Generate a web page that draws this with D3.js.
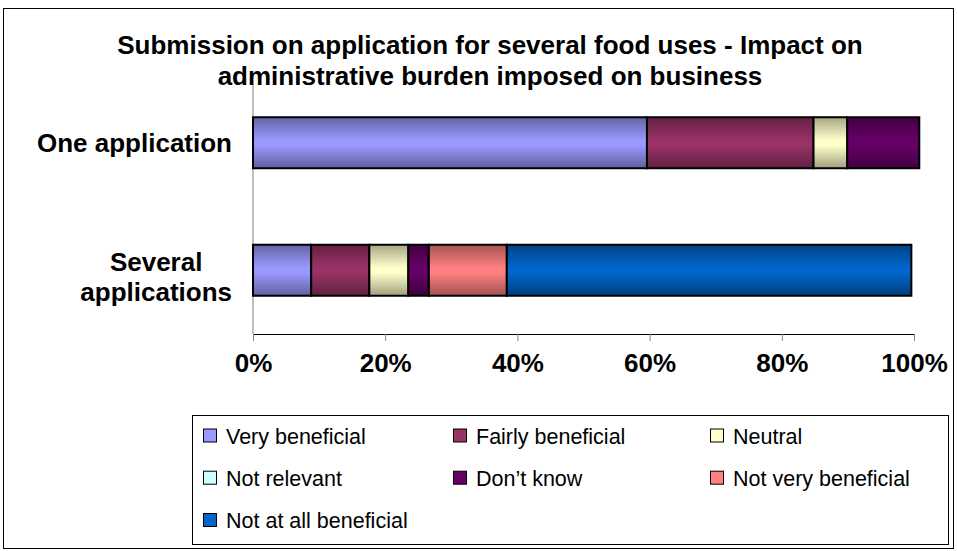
<!DOCTYPE html>
<html>
<head>
<meta charset="utf-8">
<script src="https://cdn.jsdelivr.net/npm/d3@7"></script>
<style>
  body { margin: 0; background: #fff; }
  svg text { font-family: "Liberation Sans", Arial, sans-serif; }
</style>
</head>
<body>
<div id="chart"></div>
<script>
// survey answers, percent of respondents
const categories = ["One application", "Several applications"]
const seriesNames = ["Very beneficial", "Fairly beneficial", "Neutral", "Not relevant",
    "Don\u2019t know", "Not very beneficial", "Not at all beneficial"]
const seriesColors = ["#9999FF", "#993366", "#FFFFCC", "#CCFFFF", "#660066", "#FF8080", "#0066CC"]

const veryBeneficial = [59.6, 8.8]
const fairlyBeneficial = [25.2, 8.8]
const neutral = [5.1, 5.9]
const notRelevant = [0, 0]
const dontKnow = [10.9, 3.1]
const notVeryBeneficial = [0, 11.8]
const notAtAllBeneficial = [0, 61.2]

const xTicks = [0, 20, 40, 60, 80, 100]
const titleLines = ["Submission on application for several food uses - Impact on",
    "administrative burden imposed on business"]

const width = 957
const height = 551

const seriesValues = [veryBeneficial, fairlyBeneficial, neutral, notRelevant,
    dontKnow, notVeryBeneficial, notAtAllBeneficial]

// table for d3.stack
let table = categories.map((c, i) => {
    let row = { category: c }
    seriesNames.forEach((s, j) => { row[s] = seriesValues[j][i] })
    return row
})

let svg = d3.select("#chart")
    .append("svg")
    .attr("width", width)
    .attr("height", height)

// outer frame
svg.append("rect")
    .attr("x", 3.5).attr("y", 8.5)
    .attr("width", 950).attr("height", 540)
    .attr("fill", "#fff")
    .attr("stroke", "#000")
    .attr("stroke-width", 1)

let x = d3.scaleLinear().domain([0, 100]).range([253, 914])
let y = d3.scaleBand().domain(categories).range([79, 334]).padding(0)
let barH = y.bandwidth() / 2.5

let color = d3.scaleOrdinal().domain(seriesNames).range(seriesColors)

// gradients: dark edges, bright middle
let defs = svg.append("defs")
seriesNames.forEach((s, i) => {
    let c = d3.color(seriesColors[i])
    let g = defs.append("linearGradient")
        .attr("id", "grad" + i)
        .attr("x1", 0).attr("y1", 0).attr("x2", 0).attr("y2", 1)
    g.append("stop").attr("offset", "0%").attr("stop-color", c.darker(1.2))
    g.append("stop").attr("offset", "45%").attr("stop-color", c)
    g.append("stop").attr("offset", "55%").attr("stop-color", c)
    g.append("stop").attr("offset", "100%").attr("stop-color", c.darker(1.3))
})

// axes
svg.append("line")
    .attr("x1", x(0)).attr("x2", x(0))
    .attr("y1", y.range()[0] + 6).attr("y2", y.range()[1])
    .attr("stroke", "#808080")
    .attr("stroke-width", 1)

let xAxis = svg.append("g")
    .attr("transform", "translate(0," + y.range()[1] + ")")
    .call(d3.axisBottom(x).tickValues(xTicks).tickSize(7).tickFormat(d => d + "%"))
xAxis.select(".domain").attr("stroke", "#000")
xAxis.selectAll(".tick line").attr("stroke", "#808080")
xAxis.selectAll(".tick text")
    .attr("y", 38)
    .attr("dy", 0)
    .attr("fill", "#000")
    .style("font-size", "26px")
    .style("font-weight", "bold")
    .style("font-family", "'Liberation Sans', Arial, sans-serif")

// stacked bars
let stacked = d3.stack().keys(seriesNames)(table)

let layers = svg.selectAll("g.layer")
    .data(stacked)
    .enter()
    .append("g")
    .attr("class", "layer")
    .attr("fill", (d, i) => "url(#grad" + i + ")")

layers.selectAll("rect")
    .data(d => d.filter(p => p[1] - p[0] > 0))
    .enter()
    .append("rect")
    .attr("x", d => x(d[0]))
    .attr("y", d => y(d.data.category) + (y.bandwidth() - barH) / 2)
    .attr("width", d => x(d[1]) - x(d[0]))
    .attr("height", barH)
    .attr("stroke", "#000")
    .attr("stroke-width", 2)

// category labels, centred block right-aligned against the axis
let catLabels = svg.selectAll("g.catlabel")
    .data(categories)
    .enter()
    .append("g")
    .attr("class", "catlabel")

catLabels.each(function (c) {
    let lines = c == "Several applications" ? ["Several", "applications"] : [c]
    let g = d3.select(this)
    let cy = y(c) + y.bandwidth() / 2 + (lines.length > 1 ? 6 : 0)
    let texts = g.selectAll("text")
        .data(lines)
        .enter()
        .append("text")
        .attr("text-anchor", "middle")
        .attr("y", (d, i) => cy + (i - (lines.length - 1) / 2) * 30 + 9.5)
        .style("font-size", "26px")
        .style("font-weight", "bold")
        .text(d => d)
    let maxW = d3.max(texts.nodes(), n => n.getComputedTextLength())
    texts.attr("x", 232 - maxW / 2)
})

// title
svg.append("g")
    .selectAll("text")
    .data(titleLines)
    .enter()
    .append("text")
    .attr("x", 490)
    .attr("y", (d, i) => 54 + i * 31)
    .attr("text-anchor", "middle")
    .style("font-size", "26px")
    .style("font-weight", "bold")
    .text(d => d)

// legend
const legendCols = [203, 453, 710]
const legendRows = [435.5, 477.7, 520]

svg.append("rect")
    .attr("x", 192.5).attr("y", 415.5)
    .attr("width", 756).attr("height", 129)
    .attr("fill", "#fff")
    .attr("stroke", "#000")
    .attr("stroke-width", 1)

let legend = svg.selectAll("g.legend")
    .data(seriesNames)
    .enter()
    .append("g")
    .attr("class", "legend")
    .attr("transform", (d, i) => "translate(" + legendCols[i % 3] + "," + legendRows[Math.floor(i / 3)] + ")")

legend.append("rect")
    .attr("x", 0.5).attr("y", -6.5)
    .attr("width", 13).attr("height", 13)
    .attr("fill", d => color(d))
    .attr("stroke", "#000")
    .attr("stroke-width", 1)

legend.append("text")
    .attr("x", 23)
    .attr("y", 8)
    .style("font-size", "21.5px")
    .text(d => d)
</script>
</body>
</html>
